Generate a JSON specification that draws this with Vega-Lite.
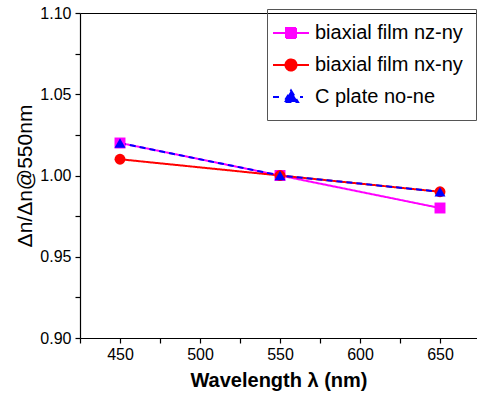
{
  "$schema": "https://vega.github.io/schema/vega-lite/v6.json",
  "width": 397,
  "height": 325,
  "autosize": "none",
  "padding": {"left": 80, "top": 13, "right": 0, "bottom": 59},
  "background": "white",
  "config": {
    "view": {"stroke": null},
    "axis": {
      "grid": false,
      "domainColor": "black",
      "tickColor": "black",
      "labelColor": "black",
      "titleColor": "black",
      "labelFont": "Liberation Sans",
      "titleFont": "Liberation Sans",
      "labelFontSize": 16,
      "domainWidth": 1.2,
      "tickWidth": 1.2
    },
    "legend": {"labelFont": "Liberation Sans"}
  },
  "data": {
    "values": [
      {"series": "biaxial film nz-ny", "mk": "sq", "wl": 450, "v": 1.02},
      {"series": "biaxial film nz-ny", "mk": "sq", "wl": 550, "v": 1.0},
      {"series": "biaxial film nz-ny", "mk": "sq", "wl": 650, "v": 0.98},
      {"series": "biaxial film nx-ny", "mk": "ci", "wl": 450, "v": 1.01},
      {"series": "biaxial film nx-ny", "mk": "ci", "wl": 550, "v": 1.0},
      {"series": "biaxial film nx-ny", "mk": "ci", "wl": 650, "v": 0.99},
      {"series": "C plate no-ne", "mk": "tr", "wl": 450, "v": 1.02},
      {"series": "C plate no-ne", "mk": "tr", "wl": 550, "v": 1.0},
      {"series": "C plate no-ne", "mk": "tr", "wl": 650, "v": 0.99}
    ]
  },
  "resolve": {"axis": {"x": "independent", "y": "independent"}},
  "layer": [
    {
      "mark": {"type": "line", "strokeWidth": 2},
      "encoding": {
        "x": {"field": "wl", "type": "quantitative", "scale": {"domain": [425, 673.125], "nice": false, "zero": false},
              "axis": {"orient": "top", "labels": false, "ticks": false, "title": null, "domain": true}},
        "y": {"field": "v", "type": "quantitative", "scale": {"domain": [0.9, 1.1], "nice": false, "zero": false}, "axis": null},
        "color": {"field": "series", "type": "nominal",
                  "scale": {"domain": ["biaxial film nz-ny", "biaxial film nx-ny", "C plate no-ne"], "range": ["#ff00ff", "#ff0000", "#0000ff"]},
                  "legend": {
                    "orient": "none", "legendX": 187, "legendY": -4,
                    "title": null,
                    "strokeColor": "#555555",
                    "padding": 13,
                    "symbolSize": 400,
                    "symbolStrokeWidth": 2,
                    "labelFontSize": 20,
                    "labelOffset": 13,
                    "labelColor": "black",
                    "rowPadding": 11,
                    "encode": {
                      "symbols": {
                        "update": {
                          "shape": {"signal": "datum.value == 'biaxial film nz-ny' ? 'M-1.8,0H1.8M-0.5,-0.5H0.5V0.5H-0.5Z' : datum.value == 'biaxial film nx-ny' ? 'M-1.8,0H1.8M0.55,0A0.55,0.55,0,1,1,-0.55,0A0.55,0.55,0,1,1,0.55,0Z' : 'M-1.8,0H-1.0M0.9,0H1.2M0,-0.65L0.7,0.5L-0.7,0.5Z'"},
                          "fill": {"scale": "color", "field": "value"},
                          "stroke": {"scale": "color", "field": "value"},
                          "strokeWidth": {"value": 2},
                          "opacity": {"value": 1}
                        }
                      }
                    }
                  }},
        "strokeDash": {"field": "series", "type": "nominal",
                       "scale": {"domain": ["biaxial film nz-ny", "biaxial film nx-ny", "C plate no-ne"], "range": [[1, 0], [1, 0], [6, 4]]},
                       "legend": null}
      }
    },
    {
      "mark": {"type": "point", "filled": true, "opacity": 1},
      "encoding": {
        "x": {"field": "wl", "type": "quantitative", "scale": {"domain": [425, 673.125], "nice": false, "zero": false},
              "axis": {"orient": "bottom", "values": [425, 450, 475, 500, 525, 550, 575, 600, 625, 650],
                       "labelExpr": "datum.value % 50 == 0 ? datum.label : ''",
                       "tickSize": 5, "labelPadding": 3, "title": "Wavelength λ (nm)",
                       "titleFontSize": 20, "titleFontWeight": "bold", "titlePadding": 8,
                       "encode": {"ticks": {"update": {"y2": {"signal": "datum.value % 50 == 0 ? 5 : 3"}}}}}},
        "y": {"field": "v", "type": "quantitative", "scale": {"domain": [0.9, 1.1], "nice": false, "zero": false},
              "axis": {"values": [0.9, 0.925, 0.95, 0.975, 1.0, 1.025, 1.05, 1.075, 1.1],
                       "labelExpr": "abs(datum.value*20 - round(datum.value*20)) < 0.001 ? format(datum.value, '.2f') : ''",
                       "tickSize": 5, "labelPadding": 4, "title": "Δn/Δn@550nm",
                       "titleFontSize": 21, "titleFontWeight": "normal", "titlePadding": 4,
                       "encode": {"ticks": {"update": {"x2": {"signal": "abs(datum.value*20 - round(datum.value*20)) < 0.001 ? -5 : -3"}}}}}},
        "color": {"field": "series", "type": "nominal", "legend": null},
        "shape": {"field": "mk", "type": "nominal",
                  "scale": {"domain": ["sq", "ci", "tr"], "range": ["square", "circle", "triangle-up"]},
                  "legend": null},
        "size": {"value": 120}
      }
    }
  ]
}
